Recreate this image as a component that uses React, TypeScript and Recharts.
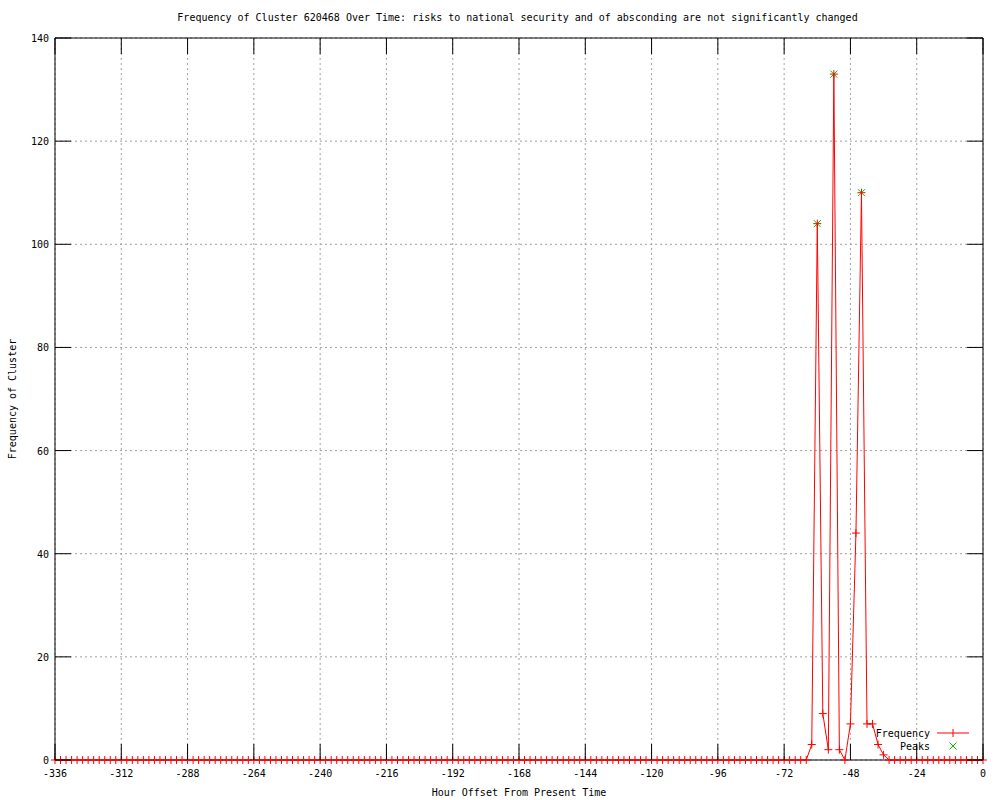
import { ComposedChart, Line, XAxis, YAxis, CartesianGrid, ReferenceArea } from 'recharts';

// hour offsets, one reading every 2 hours
const hours: number[] = Array.from({ length: 169 }, (_, i) => -336 + i * 2);

// frequency per 2-hour slot, -336 .. 0
const frequency: number[] = [
  0, 0, 0, 0, 0, 0, 0, 0, 0, 0, 0, 0, 0, 0, 0, 0, 0, 0, 0, 0, 0, 0, 0, 0,
  0, 0, 0, 0, 0, 0, 0, 0, 0, 0, 0, 0, 0, 0, 0, 0, 0, 0, 0, 0, 0, 0, 0, 0,
  0, 0, 0, 0, 0, 0, 0, 0, 0, 0, 0, 0, 0, 0, 0, 0, 0, 0, 0, 0, 0, 0, 0, 0,
  0, 0, 0, 0, 0, 0, 0, 0, 0, 0, 0, 0, 0, 0, 0, 0, 0, 0, 0, 0, 0, 0, 0, 0,
  0, 0, 0, 0, 0, 0, 0, 0, 0, 0, 0, 0, 0, 0, 0, 0, 0, 0, 0, 0, 0, 0, 0, 0,
  0, 0, 0, 0, 0, 0, 0, 0, 0, 0, 0, 0, 0, 0, 0, 0, 0,
  3, 104, 9, 2, 133, 2, 0, 7, 44, 110, 7, 7, 3, 1,
  0, 0, 0, 0, 0, 0, 0, 0, 0, 0, 0, 0, 0, 0, 0, 0, 0, 0,
];

const peakHours: number[] = [-60, -54, -44];
const peakValues: number[] = [104, 133, 110];

const xTicks: number[] = [-336, -312, -288, -264, -240, -216, -192, -168, -144, -120, -96, -72, -48, -24, 0];
const yTicks: number[] = [0, 20, 40, 60, 80, 100, 120, 140];

const chartData = hours.map((hour, i) => {
  const p = peakHours.indexOf(hour);
  return { hour, freq: frequency[i], peak: p >= 0 ? peakValues[p] : null };
});

const FONT = '"DejaVu Sans Mono", "Liberation Mono", monospace';
const FS = 10;
const LEFT = 55;
const RIGHT = 983;
const TOP = 38;
const BOTTOM = 760;
const TICK = 16;

const XTick = (props: any) => {
  const { x, payload } = props;
  return (
    <g>
      <line x1={x} y1={BOTTOM} x2={x} y2={BOTTOM - TICK} stroke="#000" />
      <line x1={x} y1={TOP} x2={x} y2={TOP + TICK} stroke="#000" />
      <text x={x} y={777} textAnchor="middle" fontFamily={FONT} fontSize={FS} fill="#000">
        {payload.value}
      </text>
    </g>
  );
};

const YTick = (props: any) => {
  const { y, payload } = props;
  return (
    <g>
      <line x1={LEFT} y1={y} x2={LEFT + TICK} y2={y} stroke="#000" />
      <line x1={RIGHT} y1={y} x2={RIGHT - TICK} y2={y} stroke="#000" />
      <text x={49} y={y + 4} textAnchor="end" fontFamily={FONT} fontSize={FS} fill="#000">
        {payload.value}
      </text>
    </g>
  );
};

const PlusDot = (props: any) => {
  const { cx, cy, index } = props;
  if (cx == null || cy == null) return <g key={index} />;
  return (
    <path key={index} d={`M${cx - 4},${cy}H${cx + 4}M${cx},${cy - 4}V${cy + 4}`} stroke="#ff0000" strokeWidth={1} fill="none" />
  );
};

const CrossDot = (props: any) => {
  const { cx, cy, index, value } = props;
  if (value == null || cx == null || cy == null) return <g key={index} />;
  return (
    <path key={index} d={`M${cx - 3.5},${cy - 3.5}L${cx + 3.5},${cy + 3.5}M${cx - 3.5},${cy + 3.5}L${cx + 3.5},${cy - 3.5}`} stroke="#00c000" strokeWidth={1} fill="none" />
  );
};

const textStyle = { position: 'absolute' as const, whiteSpace: 'nowrap' as const, fontFamily: FONT, fontSize: FS, lineHeight: '12px' };

export default function App() {
  return (
    <div style={{ position: 'absolute', left: 0, top: 0, width: 1000, height: 800, background: '#fff' }}>
      <ComposedChart width={1000} height={800} data={chartData} margin={{ top: TOP, right: 1000 - RIGHT, left: 0, bottom: 0 }}>
        <CartesianGrid stroke="#a0a0a0" strokeDasharray="2 3" />
        <XAxis
          dataKey="hour"
          type="number"
          domain={[-336, 0]}
          ticks={xTicks}
          interval={0}
          height={40}
          axisLine={false}
          tickLine={false}
          tick={<XTick />}
        />
        <YAxis
          type="number"
          domain={[0, 140]}
          ticks={yTicks}
          interval={0}
          width={LEFT}
          axisLine={false}
          tickLine={false}
          tick={<YTick />}
        />
        <ReferenceArea x1={-336} x2={0} y1={0} y2={140} fill="none" stroke="#000" strokeWidth={1} fillOpacity={0} />
        <Line
          dataKey="peak"
          stroke="none"
          dot={<CrossDot />}
          activeDot={false}
          isAnimationActive={false}
          name="Peaks"
        />
        <Line
          type="linear"
          dataKey="freq"
          stroke="#ff0000"
          strokeWidth={1}
          dot={<PlusDot />}
          activeDot={false}
          isAnimationActive={false}
          name="Frequency"
        />
      </ComposedChart>

      <div style={{ ...textStyle, left: 517.5, top: 12, transform: 'translateX(-50%)' }}>
        Frequency of Cluster 620468 Over Time: risks to national security and of absconding are not significantly changed
      </div>
      <div style={{ ...textStyle, left: 519, top: 787, transform: 'translateX(-50%)' }}>
        Hour Offset From Present Time
      </div>
      <div style={{ ...textStyle, left: 13, top: 399, transform: 'translate(-50%, -50%) rotate(-90deg)' }}>
        Frequency of Cluster
      </div>

      <div style={{ ...textStyle, left: 830, top: 727, width: 100, textAlign: 'right', lineHeight: '13px' }}>
        <div>Frequency</div>
        <div>Peaks</div>
      </div>
      <svg style={{ position: 'absolute', left: 930, top: 720 }} width={50} height={40}>
        <line x1={7} y1={13} x2={39} y2={13} stroke="#ff0000" />
        <path d="M23,9V17" stroke="#ff0000" />
        <path d="M19.5,22.5L26.5,29.5M19.5,29.5L26.5,22.5" stroke="#00c000" />
      </svg>
    </div>
  );
}
